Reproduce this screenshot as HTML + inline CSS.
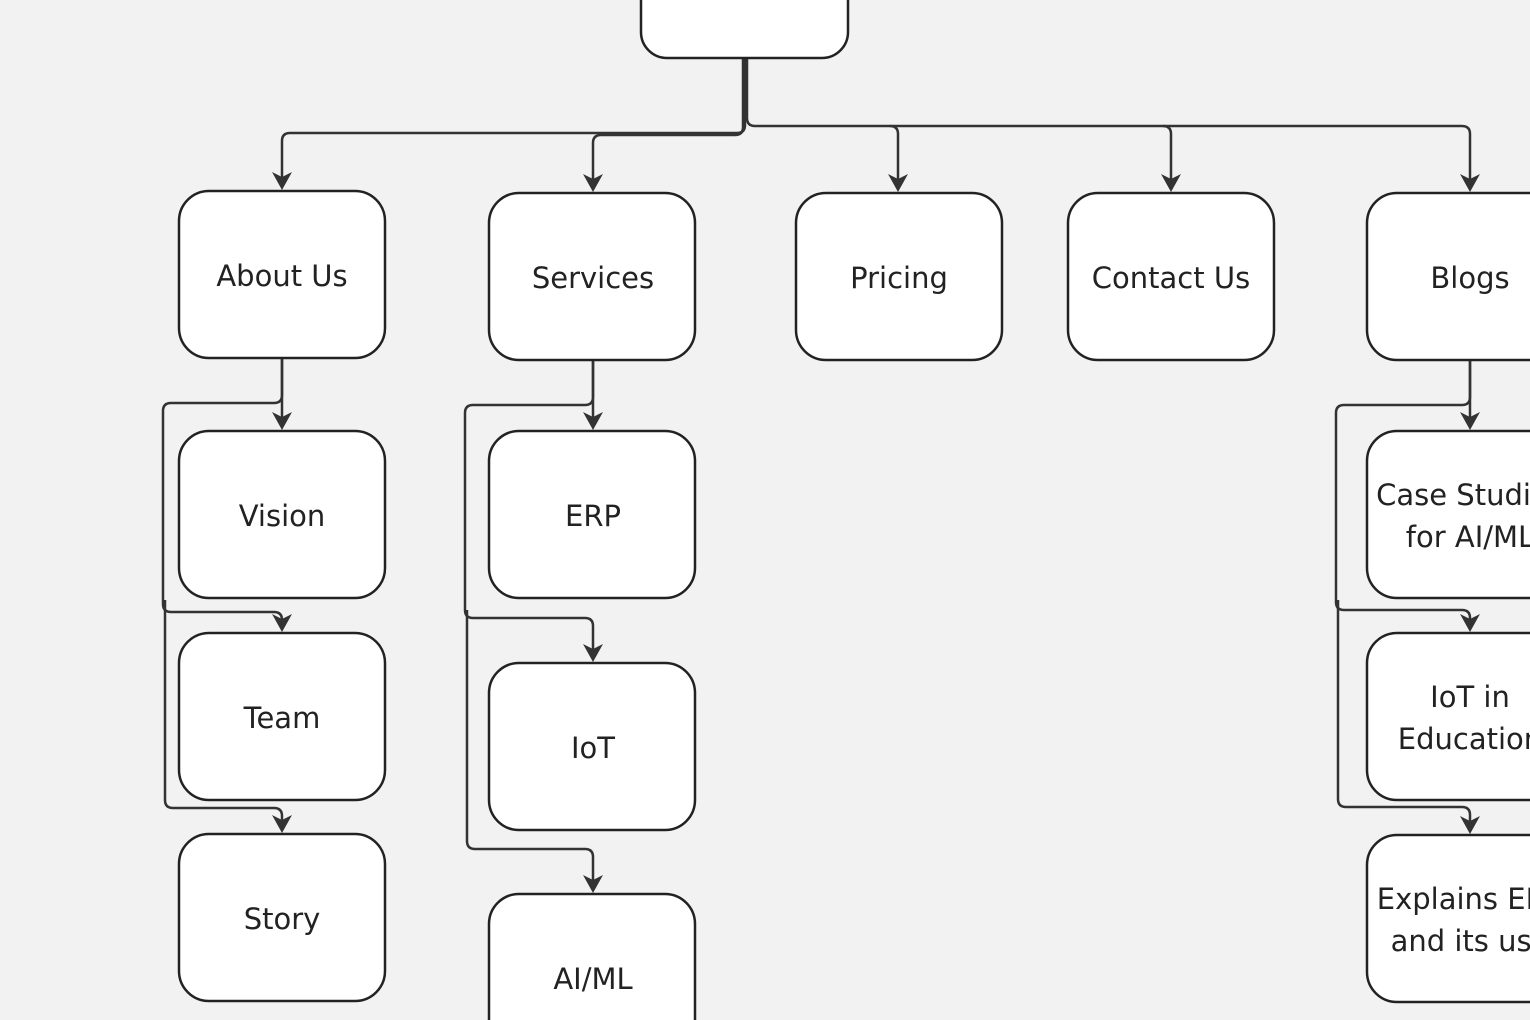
<!DOCTYPE html>
<html><head><meta charset="utf-8"><style>
html,body{margin:0;padding:0;background:#f2f2f2;}
svg{display:block;}
text{font-family:"DejaVu Sans","Liberation Sans",sans-serif;font-size:29px;fill:#222;text-anchor:middle;}
</style></head><body>
<svg width="1530" height="1020" viewBox="0 0 1530 1020" xmlns="http://www.w3.org/2000/svg">
<g fill="none" stroke="#333" stroke-width="2.5">
<path d="M745 58 V125 Q745 133 737 133 H290 Q282 133 282 141 V186"/>
<path d="M743 58 V127 Q743 135 735 135 H601 Q593 135 593 143 V188"/>
<path d="M747 58 V118 Q747 126 755 126 H1462 Q1470 126 1470 134 V188"/>
<path d="M890 126 Q898 126 898 134 V188"/>
<path d="M1163 126 Q1171 126 1171 134 V188"/>
<path d="M282 358 V426"/>
<path d="M282 358 V395 Q282 403 274 403 H171 Q163 403 163 411 V604 Q163 612 171 612 H274 Q282 612 282 620 V628"/>
<path d="M165 600 V800 Q165 808 173 808 H274 Q282 808 282 816 V829"/>
<path d="M593 360 V426"/>
<path d="M593 360 V397 Q593 405 585 405 H473 Q465 405 465 413 V610 Q465 618 473 618 H585 Q593 618 593 626 V658"/>
<path d="M467 610 V841 Q467 849 475 849 H585 Q593 849 593 857 V889"/>
<path d="M1470 360 V426"/>
<path d="M1470 360 V397 Q1470 405 1462 405 H1344 Q1336 405 1336 413 V602 Q1336 610 1344 610 H1462 Q1470 610 1470 618 V628"/>
<path d="M1338 600 V799 Q1338 807 1346 807 H1462 Q1470 807 1470 815 V830"/>
</g>
<g fill="#333">
<polygon points="272,172 282,177 292,172 282,190"/>
<polygon points="583,174 593,179 603,174 593,192"/>
<polygon points="888,174 898,179 908,174 898,192"/>
<polygon points="1161,174 1171,179 1181,174 1171,192"/>
<polygon points="1460,174 1470,179 1480,174 1470,192"/>
<polygon points="272,412 282,417 292,412 282,430"/>
<polygon points="272,614 282,619 292,614 282,632"/>
<polygon points="272,815 282,820 292,815 282,833"/>
<polygon points="583,412 593,417 603,412 593,430"/>
<polygon points="583,644 593,649 603,644 593,662"/>
<polygon points="583,875 593,880 603,875 593,893"/>
<polygon points="1460,412 1470,417 1480,412 1470,430"/>
<polygon points="1460,614 1470,619 1480,614 1470,632"/>
<polygon points="1460,816 1470,821 1480,816 1470,834"/>
</g>
<g fill="#fff" stroke="#222" stroke-width="2.5">
<rect x="641" y="-40" width="207" height="98" rx="26"/>
<rect x="179" y="191" width="206" height="167" rx="30"/>
<rect x="489" y="193" width="206" height="167" rx="30"/>
<rect x="796" y="193" width="206" height="167" rx="30"/>
<rect x="1068" y="193" width="206" height="167" rx="30"/>
<rect x="1367" y="193" width="206" height="167" rx="30"/>
<rect x="179" y="431" width="206" height="167" rx="30"/>
<rect x="179" y="633" width="206" height="167" rx="30"/>
<rect x="179" y="834" width="206" height="167" rx="30"/>
<rect x="489" y="431" width="206" height="167" rx="30"/>
<rect x="489" y="663" width="206" height="167" rx="30"/>
<rect x="489" y="894" width="206" height="167" rx="30"/>
<rect x="1367" y="431" width="206" height="167" rx="30"/>
<rect x="1367" y="633" width="206" height="167" rx="30"/>
<rect x="1367" y="835" width="206" height="167" rx="30"/>
</g>
<text x="282" y="286">About Us</text>
<text x="593" y="288">Services</text>
<text x="899" y="288">Pricing</text>
<text x="1171" y="288">Contact Us</text>
<text x="1470" y="288">Blogs</text>
<text x="282" y="526">Vision</text>
<text x="282" y="728">Team</text>
<text x="282" y="929">Story</text>
<text x="593" y="526">ERP</text>
<text x="593" y="758">IoT</text>
<text x="593" y="989">AI/ML</text>
<text x="1470" y="505">Case Studies</text>
<text x="1470" y="547">for AI/ML</text>
<text x="1470" y="707">IoT in</text>
<text x="1470" y="749">Education</text>
<text x="1470" y="909">Explains ERP</text>
<text x="1470" y="951">and its use</text>
</svg>
</body></html>
